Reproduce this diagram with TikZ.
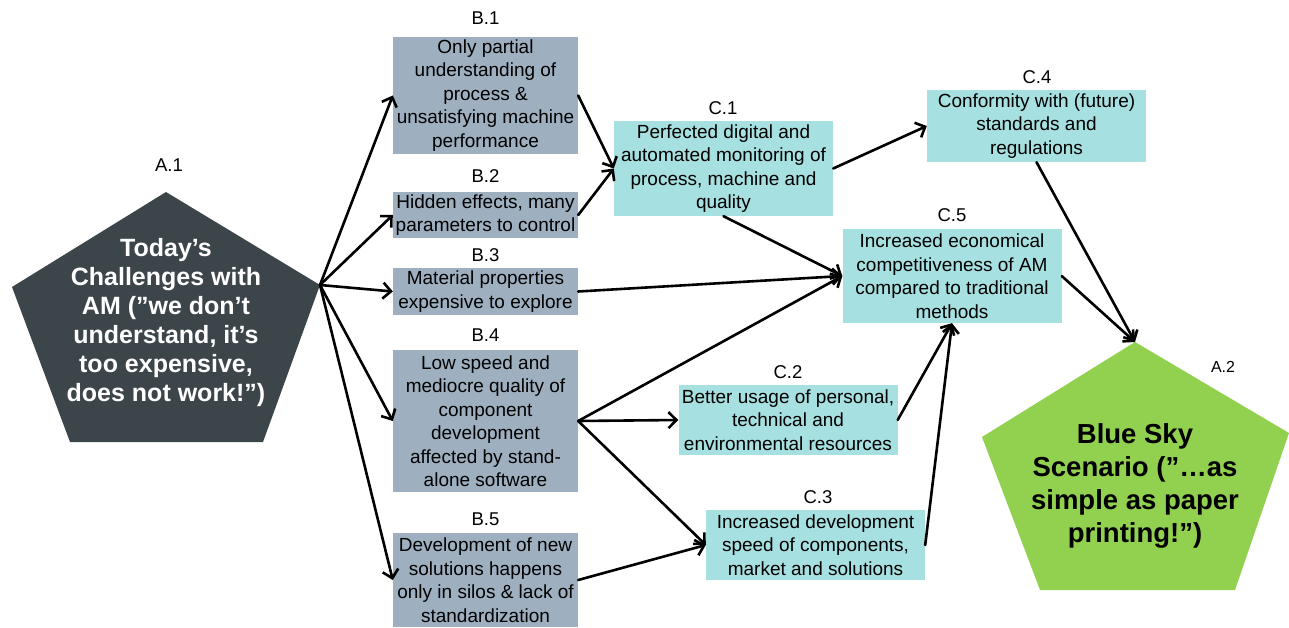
\documentclass[tikz,border=0pt]{standalone}
\usepackage{fontspec}
\setmainfont{Liberation Sans}
\usetikzlibrary{arrows.meta}
\definecolor{adark}{HTML}{3C454A}
\definecolor{bgrey}{HTML}{9EB0C0}
\definecolor{ccyan}{HTML}{A7E0E0}
\definecolor{agreen}{HTML}{92D050}
\newcommand{\boxfont}{\fontsize{19}{23.5}\selectfont}
\tikzset{
  bbox/.style={fill=bgrey, inner sep=0pt, align=center, minimum width=185pt, font=\boxfont},
  cbox/.style={fill=ccyan, inner sep=0pt, align=center, minimum width=219pt, font=\boxfont},
  lbl/.style={inner sep=0pt, font=\fontsize{18.5}{22}\selectfont},
  conn/.style={line width=2.6pt, line cap=round, -{Straight Barb[length=8pt,width=16pt]}},
}
\begin{document}
\begin{tikzpicture}[x=1pt,y=-1pt]
\useasboundingbox (0,0) rectangle (1289,628);
% A.1 pentagon
\coordinate (a1t) at (166,192);
\coordinate (a1l) at (12,287);
\coordinate (a1r) at (320,285);
\coordinate (a1bl) at (70,442);
\coordinate (a1br) at (263,442);
\fill[adark] (a1t) -- (a1r) -- (a1br) -- (a1bl) -- (a1l) -- cycle;
\node[inner sep=0pt, align=center, text=white, font=\fontsize{25}{29}\selectfont\bfseries] (a1text) at (166,323)
  {Today’s\\Challenges with\\AM (”we don’t\\understand, it’s\\too expensive,\\does not work!”)};
\node[lbl] (a1lbl) at (169,165) {A.1};
% A.2 pentagon
\coordinate (a2t) at (1135,342);
\coordinate (a2l) at (982,437);
\coordinate (a2r) at (1289,433);
\coordinate (a2bl) at (1040,590);
\coordinate (a2br) at (1235,590);
\fill[agreen] (a2t) -- (a2r) -- (a2br) -- (a2bl) -- (a2l) -- cycle;
\node[inner sep=0pt, align=center, font=\fontsize{27.5}{33}\selectfont\bfseries] (a2text) at (1135,486)
  {Blue Sky\\Scenario (”…as\\simple as paper\\printing!”)};
\node[lbl, font=\fontsize{16}{19}\selectfont] (a2lbl) at (1223,367) {A.2};
% B boxes
\node[bbox, minimum height=117pt] (b1) at (485.5,95.5) {Only partial\\understanding of\\process \&\\unsatisfying machine\\performance};
\node[bbox, minimum height=46pt] (b2) at (485.5,215) {Hidden effects, many\\parameters to control};
\node[bbox, minimum height=47pt] (b3) at (485.5,291.5) {Material properties\\expensive to explore};
\node[bbox, minimum height=142pt] (b4) at (485.5,421) {Low speed and\\mediocre quality of\\component\\development\\affected by stand-\\alone software};
\node[bbox, minimum height=94pt] (b5) at (485.5,580) {Development of new\\solutions happens\\only in silos \& lack of\\standardization};
\node[lbl] (b1lbl) at (485.5,18) {B.1};
\node[lbl] (b2lbl) at (485.5,176) {B.2};
\node[lbl] (b3lbl) at (485.5,255) {B.3};
\node[lbl] (b4lbl) at (485.5,335) {B.4};
\node[lbl] (b5lbl) at (485.5,519) {B.5};
% C boxes
\node[cbox, minimum height=95pt] (c1) at (723.5,168.5) {Perfected digital and\\automated monitoring of\\process, machine and\\quality};
\node[cbox, minimum height=70pt] (c2) at (788,420) {Better usage of personal,\\technical and\\environmental resources};
\node[cbox, minimum height=70pt] (c3) at (815.5,545) {Increased development\\speed of components,\\market and solutions};
\node[cbox, minimum height=72pt] (c4) at (1036.5,126) {Conformity with (future)\\standards and\\regulations};
\node[cbox, minimum height=94pt] (c5) at (952,276) {Increased economical\\competitiveness of AM\\compared to traditional\\methods};
\node[lbl] (c1lbl) at (723,108) {C.1};
\node[lbl] (c2lbl) at (788,372) {C.2};
\node[lbl] (c3lbl) at (818,497) {C.3};
\node[lbl] (c4lbl) at (1037,77) {C.4};
\node[lbl] (c5lbl) at (952,215) {C.5};
% connectors
\draw[conn] (a1r) -- (b1.west);
\draw[conn] (a1r) -- (b2.west);
\draw[conn] (a1r) -- (b3.west);
\draw[conn] (a1r) -- (b4.west);
\draw[conn] (a1r) -- (b5.west);
\draw[conn] (b1.east) -- (c1.west);
\draw[conn] (b2.east) -- (c1.west);
\draw[conn] (b3.east) -- (c5.west);
\draw[conn] (b4.east) -- (c5.west);
\draw[conn] (c1.south) -- (c5.west);
\draw[conn] (b4.east) -- (c2.west);
\draw[conn] (b4.east) -- (c3.west);
\draw[conn] (b5.east) -- (c3.west);
\draw[conn] (c1.east) -- (c4.west);
\draw[conn] (c2.east) -- (c5.south);
\draw[conn] (c3.east) -- (c5.south);
\draw[conn] (c4.south) -- (a2t);
\draw[conn] (c5.east) -- (a2t);
\end{tikzpicture}
\end{document}
